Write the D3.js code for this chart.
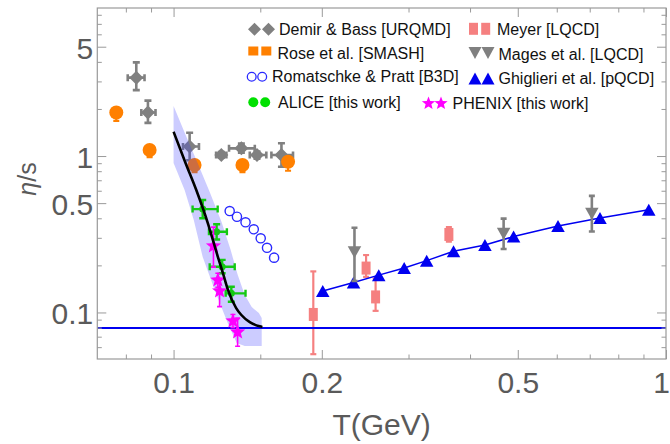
<!DOCTYPE html>
<html><head><meta charset="utf-8">
<script src="https://cdn.jsdelivr.net/npm/d3@7"></script>
<style>body{margin:0;background:#fff} svg{display:block}</style>
</head><body><svg id="c" width="670" height="444"></svg>
<script>
// ---------------- data ----------------
const demirT     = [0.0840, 0.0887, 0.1078, 0.1250, 0.1373, 0.1477, 0.1656];
const demirEta   = [3.17, 1.90, 1.15, 1.015, 1.12, 1.015, 1.015];
const demirEtaLo = [2.64, 1.63, 0.94, 0.975, 1.05, 0.96, 0.854];
const demirEtaHi = [3.97, 2.26, 1.41, 1.06, 1.20, 1.07, 1.206];
const demirTLo   = [0.0807, 0.0860, 0.1045, 0.1220, 0.1296, 0.1428, 0.1580];
const demirTHi   = [0.0873, 0.0919, 0.1126, 0.1280, 0.1462, 0.1543, 0.1748];

const roseT     = [0.0765, 0.0894, 0.1103, 0.1380, 0.1708];
const roseEta   = [1.90, 1.092, 0.876, 0.876, 0.92];
const roseEtaLo = [1.68, 0.985, 0.79, 0.79, 0.805];
const roseEtaHi = [1.98, 1.12, 0.90, 0.90, 0.945];

const rpT   = [0.130, 0.1345, 0.140, 0.1455, 0.1503, 0.1548, 0.160];
const rpEta = [0.445, 0.409, 0.377, 0.340, 0.298, 0.259, 0.224];

const aliceT     = [0.1146, 0.1223, 0.1255, 0.1310];
const aliceEta   = [0.458, 0.328, 0.196, 0.1325];
const aliceTLo   = [0.1093, 0.1180, 0.1184, 0.1276];
const aliceTHi   = [0.1229, 0.1283, 0.1331, 0.1400];
const aliceEtaLo = [0.400, 0.293, 0.178, 0.117];
const aliceEtaHi = [0.523, 0.366, 0.217, 0.146];

const phenixT     = [0.1205, 0.1230, 0.1240, 0.1320, 0.1349];
const phenixEta   = [0.266, 0.161, 0.137, 0.0881, 0.0749];
const phenixEtaLo = [0.195, 0.145, 0.109, 0.080, 0.0608];
const phenixEtaHi = [0.351, 0.178, 0.161, 0.097, 0.092];

const meyerT     = [0.1922, 0.2460, 0.2572, 0.3623];
const meyerEta   = [0.0971, 0.1922, 0.1257, 0.3152];
const meyerEtaLo = [0.0541, 0.1688, 0.1024, 0.2838];
const meyerEtaHi = [0.183, 0.2329, 0.1649, 0.351];

const magesT     = [0.233, 0.468, 0.707];
const magesEta   = [0.2426, 0.318, 0.428];
const magesEtaLo = [0.159, 0.2545, 0.3296];
const magesEtaHi = [0.348, 0.398, 0.5565];

const ghT   = [0.2009, 0.232, 0.261, 0.294, 0.3266, 0.3703, 0.4288, 0.4903, 0.6035, 0.7345, 0.9226];
const ghEta = [0.1372, 0.1553, 0.1732, 0.1922, 0.2144, 0.2462, 0.270, 0.3057, 0.3568, 0.4015, 0.4543];

const fitT   = [0.1, 0.1058, 0.1112, 0.1174, 0.1202, 0.123, 0.126, 0.129, 0.134, 0.1373, 0.1428, 0.1496, 0.1515];
const fitEta = [1.43, 0.90, 0.606, 0.371, 0.290, 0.227, 0.178, 0.139, 0.1067, 0.0963, 0.0867, 0.0815, 0.0808];

const bandUpperT   = [0.1, 0.1058, 0.1119, 0.1184, 0.1252, 0.1306, 0.135, 0.1395, 0.1441, 0.149, 0.151, 0.151];
const bandUpperEta = [2.087, 1.362, 0.902, 0.589, 0.378, 0.2506, 0.1734, 0.1292, 0.1083, 0.0991, 0.092, 0.0619];
const bandLowerT   = [0.1, 0.1053, 0.1099, 0.1146, 0.1212, 0.1288, 0.1343, 0.1395, 0.151];
const bandLowerEta = [0.902, 0.606, 0.39, 0.226, 0.139, 0.0855, 0.0637, 0.061, 0.061];

const kssBound = 1 / (4 * Math.PI);

const xMajorTicks = [0.1, 0.2, 0.5, 1];
const xTickLabels = ["0.1", "0.2", "0.5", "1"];
const xMinorTicks = [0.08, 0.09, 0.15, 0.3, 0.4, 0.6, 0.7, 0.8, 0.9];
const yMajorTicks = [0.1, 0.5, 1, 5];
const yTickLabels = ["0.1", "0.5", "1", "5"];
const yMinorTicks = [0.06, 0.07, 0.08, 0.09, 0.2, 0.3, 0.4, 0.6, 0.7, 0.8, 0.9, 2, 3, 4, 6, 7, 8];

const legendLabels = ["Demir & Bass [URQMD]", "Rose et al. [SMASH]", "Romatschke & Pratt [B3D]", "ALICE [this work]",
                      "Meyer [LQCD]", "Mages et al. [LQCD]", "Ghiglieri et al. [pQCD]", "PHENIX [this work]"];

// ---------------- styles ----------------
const C = {
  gray: "#808080", orange: "#ff8000", rp: "#2a2aff", green: "#14c814",
  magenta: "#ff00ff", meyer: "#f58080", blue: "#0000f0", axis: "#9a9a9a", label: "#5a5a5a"
};
const FONT = "'Liberation Sans', Arial, sans-serif";

const svg = d3.select("#c");
const L = 97.3, R = 666, T = 8, B = 359;
const x = d3.scaleLog().domain([0.07, 1]).range([L, R]);
const y = d3.scaleLog().domain([0.0504, 8.84]).range([B, T]);

svg.append("defs").append("clipPath").attr("id", "pc")
  .append("rect").attr("x", L).attr("y", T).attr("width", R - L).attr("height", B - T);

const plot = svg.append("g").attr("clip-path", "url(#pc)");

function zip(...arrs) { return arrs[0].map((_, i) => arrs.map(a => a[i])); }
function errY(g, T_, E, Lo, Hi, color, w, cap) {
  zip(T_, E, Lo, Hi).forEach(([t, e, lo, hi]) => {
    const cx = x(t);
    g.append("line").attr("x1", cx).attr("x2", cx).attr("y1", y(lo)).attr("y2", y(hi))
      .attr("stroke", color).attr("stroke-width", w);
    [lo, hi].forEach(v => g.append("line").attr("x1", cx - cap / 2).attr("x2", cx + cap / 2)
      .attr("y1", y(v)).attr("y2", y(v)).attr("stroke", color).attr("stroke-width", w));
  });
}
function errX(g, T_, E, Lo, Hi, color, w, cap) {
  zip(T_, E, Lo, Hi).forEach(([t, e, lo, hi]) => {
    const cy = y(e);
    g.append("line").attr("y1", cy).attr("y2", cy).attr("x1", x(lo)).attr("x2", x(hi))
      .attr("stroke", color).attr("stroke-width", w);
    [lo, hi].forEach(v => g.append("line").attr("y1", cy - cap / 2).attr("y2", cy + cap / 2)
      .attr("x1", x(v)).attr("x2", x(v)).attr("stroke", color).attr("stroke-width", w));
  });
}
function diamondPath(cx, cy, r) { return `M${cx},${cy - r}L${cx + r},${cy}L${cx},${cy + r}L${cx - r},${cy}Z`; }
function triUp(cx, cy, w, h) { return `M${cx},${cy - h / 2}L${cx + w / 2},${cy + h / 2}L${cx - w / 2},${cy + h / 2}Z`; }
function triDown(cx, cy, w, h) { return `M${cx},${cy + h / 2}L${cx + w / 2},${cy - h / 2}L${cx - w / 2},${cy - h / 2}Z`; }
function starPath(cx, cy, Ro, Ri) {
  let p = "";
  for (let i = 0; i < 10; i++) {
    const a = -Math.PI / 2 + i * Math.PI / 5, r = i % 2 ? Ri : Ro;
    p += (i ? "L" : "M") + (cx + r * Math.cos(a)).toFixed(2) + "," + (cy + r * Math.sin(a)).toFixed(2);
  }
  return p + "Z";
}

// Demir & Bass
const gD = plot.append("g");
errY(gD, demirT, demirEta, demirEtaLo, demirEtaHi, C.gray, 2.6, 7);
errX(gD, demirT, demirEta, demirTLo, demirTHi, C.gray, 2.6, 7);
zip(demirT, demirEta).forEach(([t, e]) => gD.append("path").attr("d", diamondPath(x(t), y(e), 7)).attr("fill", C.gray));

// Rose SMASH
const gR = plot.append("g");
errY(gR, roseT, roseEta, roseEtaLo, roseEtaHi, C.orange, 2.2, 6);
zip(roseT, roseEta).forEach(([t, e]) => gR.append("circle").attr("cx", x(t)).attr("cy", y(e)).attr("r", 7).attr("fill", C.orange));

// band
const bandPts = zip(bandUpperT, bandUpperEta).concat(zip(bandLowerT, bandLowerEta).reverse());
plot.append("path")
  .attr("d", d3.line().x(d => x(d[0])).y(d => y(d[1])).curve(d3.curveLinearClosed)(bandPts))
  .attr("fill", "#3333ff").attr("fill-opacity", 0.25).attr("stroke", "none");

// Meyer
const gM = plot.append("g");
errY(gM, meyerT, meyerEta, meyerEtaLo, meyerEtaHi, C.meyer, 2.2, 6);
zip(meyerT, meyerEta).forEach(([t, e]) => gM.append("rect").attr("x", x(t) - 4.5).attr("y", y(e) - 6.5)
  .attr("width", 9).attr("height", 13).attr("fill", C.meyer));

// Ghiglieri line + triangles
const gG = plot.append("g");
gG.append("path").attr("d", d3.line().x(d => x(d[0])).y(d => y(d[1]))(zip(ghT, ghEta)))
  .attr("fill", "none").attr("stroke", C.blue).attr("stroke-width", 1.5);
zip(ghT, ghEta).forEach(([t, e]) => gG.append("path").attr("d", triUp(x(t), y(e), 13.5, 12)).attr("fill", C.blue));

// Mages
const gMa = plot.append("g");
errY(gMa, magesT, magesEta, magesEtaLo, magesEtaHi, C.gray, 2.6, 6);
zip(magesT, magesEta).forEach(([t, e]) => gMa.append("path").attr("d", triDown(x(t), y(e), 13.5, 12)).attr("fill", C.gray));

// Romatschke & Pratt
zip(rpT, rpEta).forEach(([t, e]) => plot.append("circle").attr("cx", x(t)).attr("cy", y(e)).attr("r", 4.6)
  .attr("fill", "none").attr("stroke", C.rp).attr("stroke-width", 1.4));

// KSS bound line
plot.append("line").attr("x1", L).attr("x2", R).attr("y1", y(kssBound)).attr("y2", y(kssBound))
  .attr("stroke", C.blue).attr("stroke-width", 2);

// ALICE
const gA = plot.append("g");
errY(gA, aliceT, aliceEta, aliceEtaLo, aliceEtaHi, C.green, 2.4, 7);
errX(gA, aliceT, aliceEta, aliceTLo, aliceTHi, C.green, 2.4, 7);
zip(aliceT, aliceEta).forEach(([t, e]) => gA.append("circle").attr("cx", x(t)).attr("cy", y(e)).attr("r", 3.5).attr("fill", C.green));

// PHENIX
const gP = plot.append("g");
errY(gP, phenixT, phenixEta, phenixEtaLo, phenixEtaHi, C.magenta, 1.6, 5);
zip(phenixT, phenixEta).forEach(([t, e]) => gP.append("path").attr("d", starPath(x(t), y(e), 8, 3.4)).attr("fill", C.magenta));

// fit curve
plot.append("path").attr("d", d3.line().x(d => x(d[0])).y(d => y(d[1])).curve(d3.curveMonotoneX)(zip(fitT, fitEta)))
  .attr("fill", "none").attr("stroke", "#000").attr("stroke-width", 2.6);

// ---------------- axes ----------------
function styleAxis(g) {
  g.selectAll(".domain").remove();
  g.selectAll("line").attr("stroke", C.axis).attr("stroke-width", 1);
  g.selectAll("text").attr("fill", C.label).attr("font-family", FONT);
}
const major = 9, minor = 4.5;
const gx = svg.append("g").attr("transform", `translate(0,${B})`);
gx.call(d3.axisBottom(x).tickValues(xMajorTicks).tickSize(-major).tickPadding(12.5)
  .tickFormat((d, i) => xTickLabels[i]));
gx.selectAll("text").attr("font-size", 30);
// keep the last label inside the 670px window
gx.selectAll(".tick").filter(d => d === 1).select("text").attr("text-anchor", "end").attr("x", 670 - R - 0.5);
styleAxis(gx);
const gx2 = svg.append("g").attr("transform", `translate(0,${B})`);
gx2.call(d3.axisBottom(x).tickValues(xMinorTicks).tickSize(-minor).tickFormat(""));
styleAxis(gx2);
const gxt = svg.append("g").attr("transform", `translate(0,${T})`);
gxt.call(d3.axisTop(x).tickValues(xMajorTicks).tickSize(-major).tickFormat("")); styleAxis(gxt);
const gxt2 = svg.append("g").attr("transform", `translate(0,${T})`);
gxt2.call(d3.axisTop(x).tickValues(xMinorTicks).tickSize(-minor).tickFormat("")); styleAxis(gxt2);

const gy = svg.append("g").attr("transform", `translate(${L},0)`);
gy.call(d3.axisLeft(y).tickValues(yMajorTicks).tickSize(-major).tickPadding(4)
  .tickFormat((d, i) => yTickLabels[i]));
gy.selectAll("text").attr("font-size", 30).attr("dy", "0.38em");
styleAxis(gy);
const gy2 = svg.append("g").attr("transform", `translate(${L},0)`);
gy2.call(d3.axisLeft(y).tickValues(yMinorTicks).tickSize(-minor).tickFormat("")); styleAxis(gy2);
const gyr = svg.append("g").attr("transform", `translate(${R},0)`);
gyr.call(d3.axisRight(y).tickValues(yMajorTicks).tickSize(-major).tickFormat("")); styleAxis(gyr);
const gyr2 = svg.append("g").attr("transform", `translate(${R},0)`);
gyr2.call(d3.axisRight(y).tickValues(yMinorTicks).tickSize(-minor).tickFormat("")); styleAxis(gyr2);

// frame
svg.append("rect").attr("x", L).attr("y", T).attr("width", R - L).attr("height", B - T)
  .attr("fill", "none").attr("stroke", C.axis).attr("stroke-width", 1.2);

// axis titles
svg.append("text").attr("x", (L + R) / 2).attr("y", 435).attr("text-anchor", "middle")
  .attr("font-family", FONT).attr("font-size", 30).attr("fill", C.label).text("T(GeV)");
const yt = svg.append("text").attr("transform", "translate(27,179) rotate(-90)").attr("text-anchor", "middle")
  .attr("dy", "0.35em").attr("font-family", FONT).attr("font-size", 25).attr("fill", C.label);
yt.append("tspan").attr("font-style", "italic").text("η");
yt.append("tspan").text("/s");

// ---------------- legend ----------------
const legendLayout = [
  { sym: "diamond", xs: [254.5, 268.5], sy: 29.3, tx: 279, by: 35 },
  { sym: "square", xs: [253.3, 266.3], sy: 51, tx: 277.5, by: 58.5 },
  { sym: "ocircle", xs: [251.7, 262.2], sy: 76.7, tx: 272, by: 82 },
  { sym: "dot", xs: [253.3, 265.2], sy: 102.3, tx: 278, by: 107.5 },
  { sym: "rect", xs: [473.5, 485.7], sy: 28.8, tx: 497, by: 35 },
  { sym: "tdown", xs: [475, 488], sy: 53, tx: 498.5, by: 59.5 },
  { sym: "tup", xs: [475, 488], sy: 78.5, tx: 498.5, by: 83.5 },
  { sym: "star", xs: [428.5, 441], sy: 103.4, tx: 452.5, by: 108.8 }
];
const lg = svg.append("g");
legendLayout.forEach((it, i) => {
  it.xs.forEach(cx => {
    const cy = it.sy;
    if (it.sym === "diamond") lg.append("path").attr("d", diamondPath(cx, cy, 6.5)).attr("fill", C.gray);
    if (it.sym === "square") lg.append("rect").attr("x", cx - 5).attr("y", cy - 4.5).attr("width", 10).attr("height", 9).attr("fill", C.orange);
    if (it.sym === "ocircle") lg.append("circle").attr("cx", cx).attr("cy", cy).attr("r", 4.4).attr("fill", "none").attr("stroke", C.rp).attr("stroke-width", 1.3);
    if (it.sym === "dot") lg.append("circle").attr("cx", cx).attr("cy", cy).attr("r", 5).attr("fill", "#00e000");
    if (it.sym === "rect") lg.append("rect").attr("x", cx - 4.5).attr("y", cy - 6).attr("width", 9).attr("height", 12).attr("fill", C.meyer);
    if (it.sym === "tdown") lg.append("path").attr("d", triDown(cx, cy, 13, 12)).attr("fill", C.gray);
    if (it.sym === "tup") lg.append("path").attr("d", triUp(cx, cy, 13, 12)).attr("fill", C.blue);
    if (it.sym === "star") lg.append("path").attr("d", starPath(cx, cy, 7, 3)).attr("fill", C.magenta);
  });
  lg.append("text").attr("x", it.tx).attr("y", it.by).attr("font-family", FONT).attr("font-size", 16)
    .attr("fill", "#111").text(legendLabels[i]);
});
</script></body></html>
